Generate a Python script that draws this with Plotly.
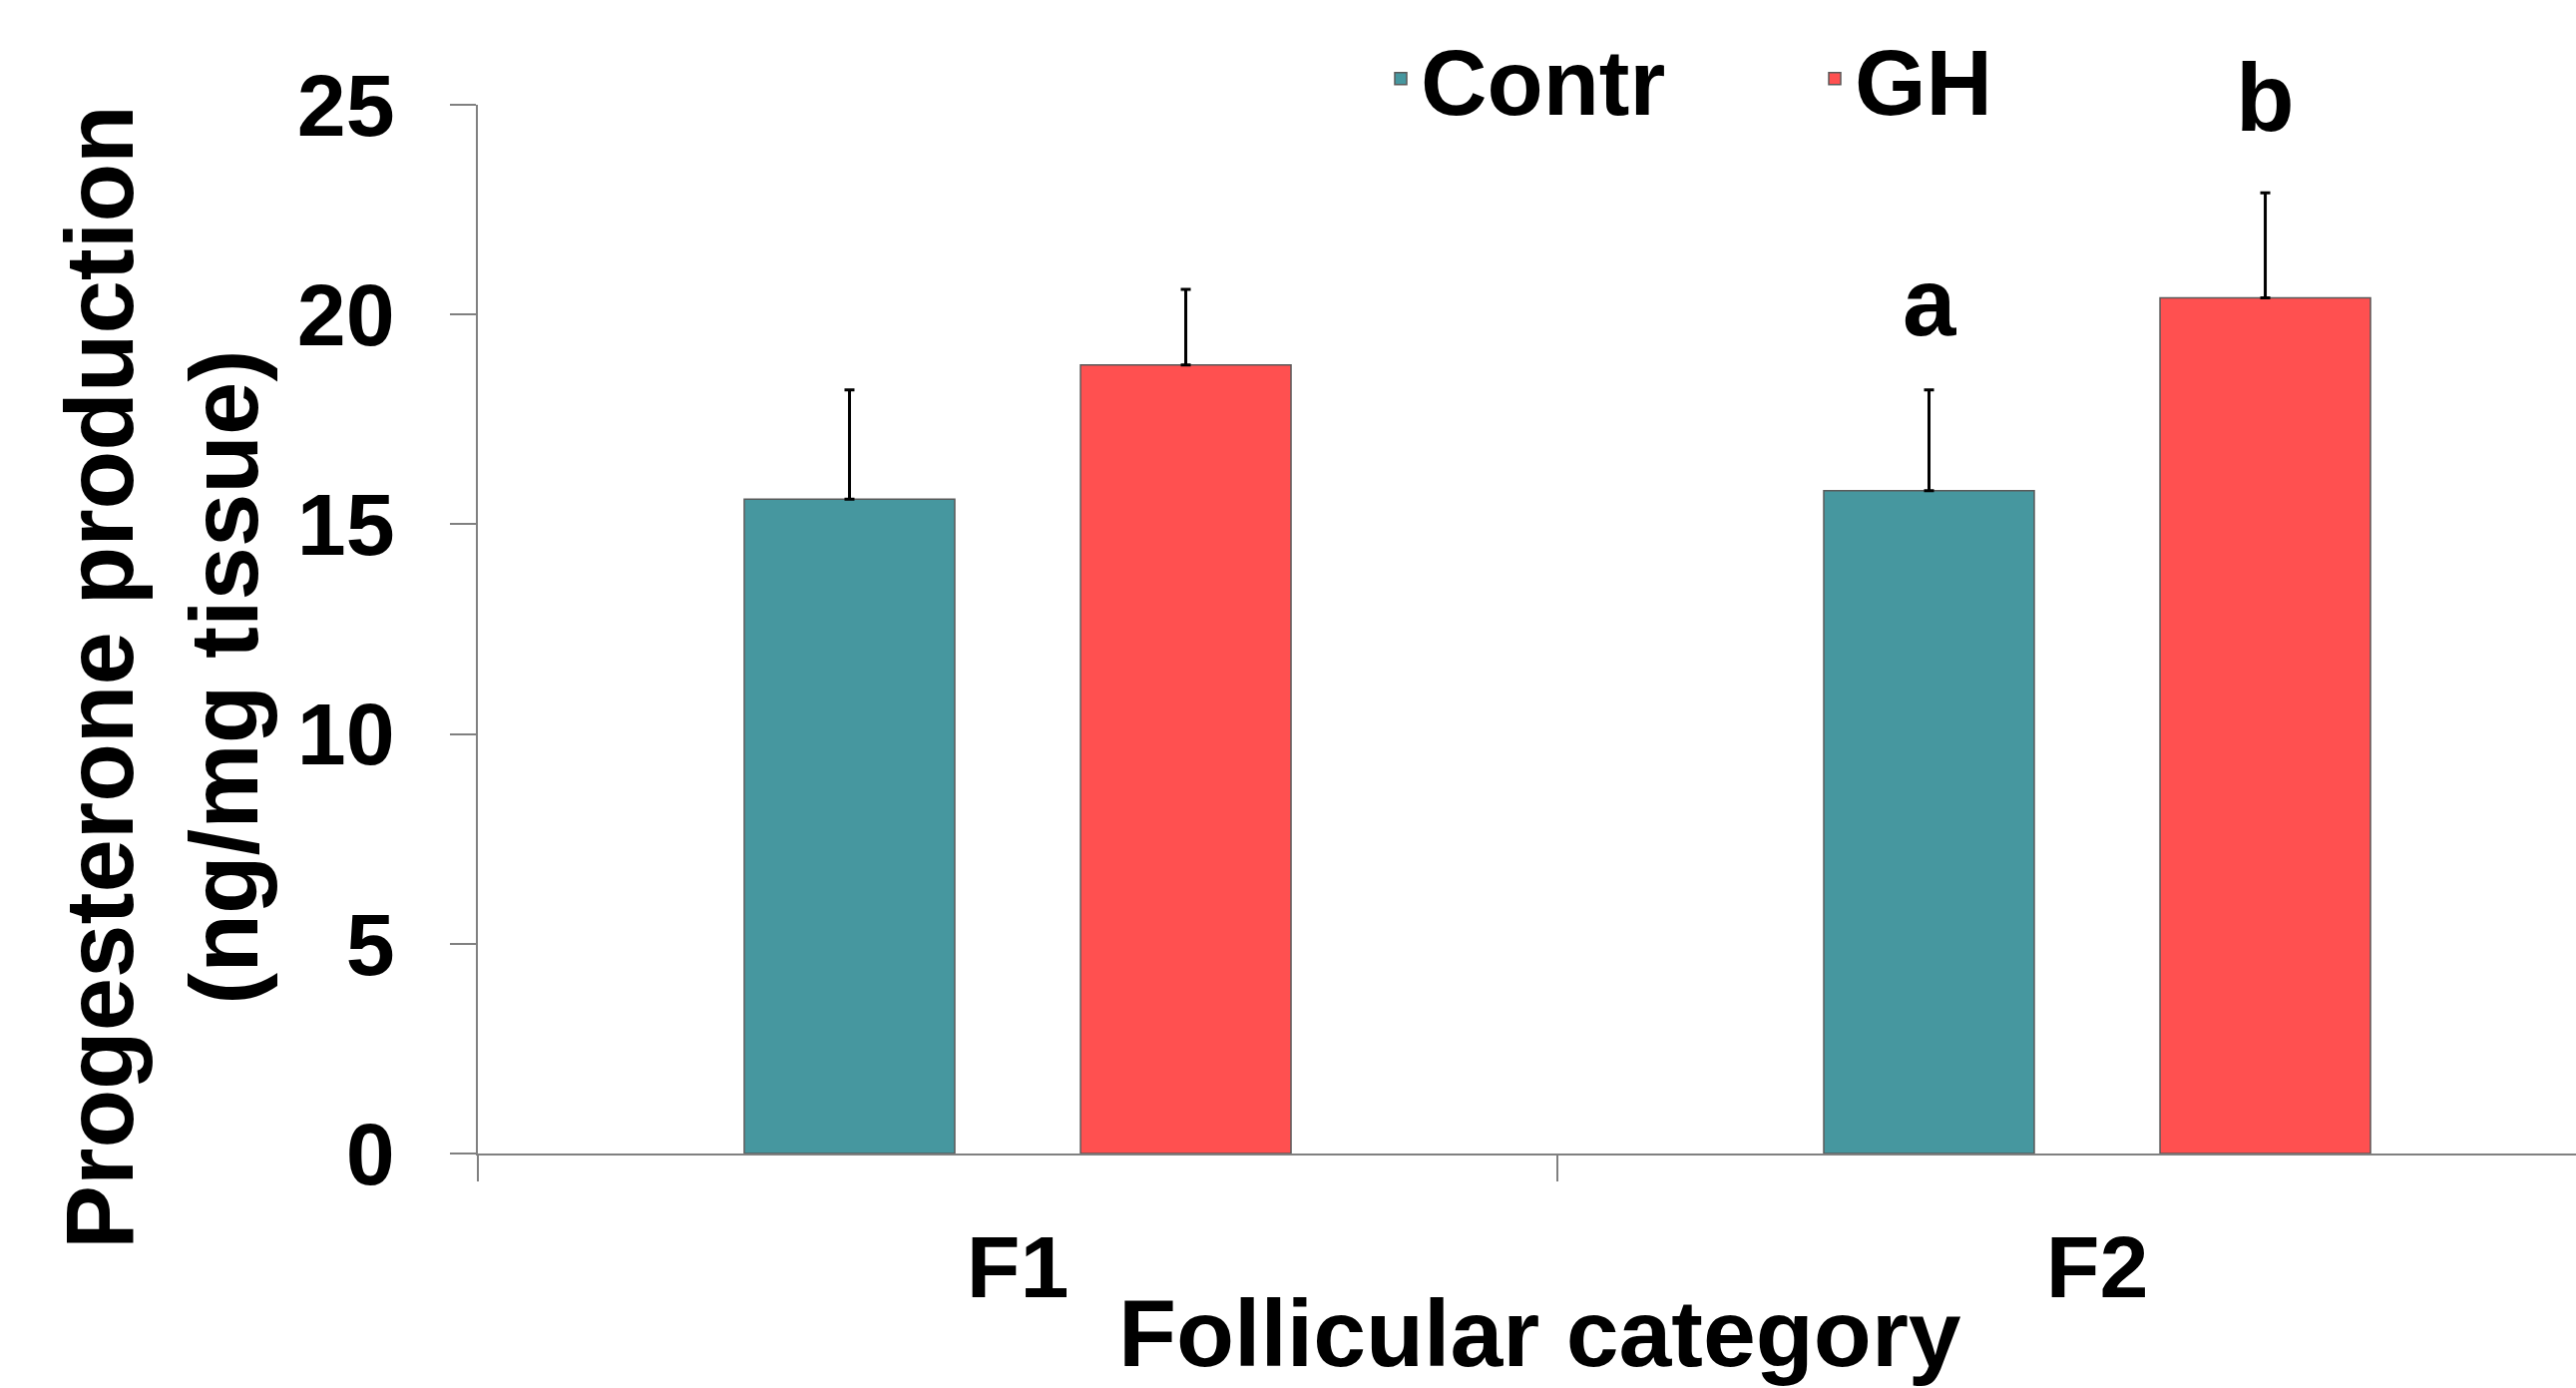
import plotly.graph_objects as go

# ---- data ----
categories = ["F1", "F2"]
series_names = ["Contr", "GH"]
contr_values = [15.6, 15.8]
contr_errors = [2.6, 2.4]
gh_values = [18.8, 20.4]
gh_errors = [1.8, 2.5]
contr_letters = ["", "a"]
gh_letters = ["", "b"]
y_tick_values = [0, 5, 10, 15, 20, 25]

# ---- layout / style ----
W, H = 2582, 1391
L, R, T, B = 479, 0, 105, 235
BARGAP = 0.377
BARGROUPGAP = 0.374
FONT = "Liberation Sans, Arial, sans-serif"
TEAL = "#46979F"
RED = "#FF5050"
EDGE = "#5a5a5a"
AXIS = "#808080"
plot_w = W - L - R
plot_h = H - T - B

fig = go.Figure()
for name, vals, errs, color in [
    (series_names[0], contr_values, contr_errors, TEAL),
    (series_names[1], gh_values, gh_errors, RED),
]:
    fig.add_trace(go.Bar(
        name=name, x=categories, y=vals,
        marker=dict(color=color, line=dict(color=EDGE, width=1.5)),
        error_y=dict(type="data", array=errs, arrayminus=[0] * len(errs),
                     symmetric=False, color="black", thickness=3, width=5),
    ))

# significance letters above error bars
slot_half = (1 - BARGAP) / 4
for letters, vals, errs, sign, shift in [
    (contr_letters, contr_values, contr_errors, -1, 33),
    (gh_letters, gh_values, gh_errors, 1, 40),
]:
    for i, letter in enumerate(letters):
        if letter:
            fig.add_annotation(
                x=i + sign * slot_half, y=vals[i] + errs[i], xref="x", yref="y",
                text=f"<b>{letter}</b>", showarrow=False, yanchor="bottom",
                yshift=shift, font=dict(family=FONT, size=96, color="black"),
            )

# y-axis title (two lines, rotated)
fig.add_annotation(
    x=(162 - L) / plot_w, y=(T + plot_h - 679) / plot_h, xref="paper", yref="paper",
    text="<b>Progesterone production<br>(ng/mg tissue)</b>", textangle=-90,
    showarrow=False, xanchor="center", yanchor="middle",
    font=dict(family=FONT, size=96, color="black"),
)
# x-axis title
fig.add_annotation(
    x=(1543 - L) / plot_w, y=(T + plot_h - 1336) / plot_h, xref="paper", yref="paper",
    text="<b>Follicular category</b>", showarrow=False,
    xanchor="center", yanchor="middle",
    font=dict(family=FONT, size=95, color="black"),
)

fig.update_layout(
    width=W, height=H,
    margin=dict(l=L, r=R, t=T, b=B, pad=0),
    paper_bgcolor="white", plot_bgcolor="white",
    barmode="group", bargap=BARGAP, bargroupgap=BARGROUPGAP,
    font=dict(family=FONT, color="black"),
    showlegend=True,
    legend=dict(
        orientation="h", x=(1384 - L) / plot_w, xanchor="left",
        y=(T + plot_h - 79) / plot_h, yanchor="middle",
        font=dict(family=FONT, size=92, color="black", weight="bold"),
        entrywidth=390, entrywidthmode="pixels",
        bgcolor="rgba(0,0,0,0)", borderwidth=0,
    ),
    xaxis=dict(
        type="category", range=[-0.5, 1.4436],
        showline=True, linecolor=AXIS, linewidth=1.5,
        ticks="outside", tickson="boundaries", ticklen=26, tickwidth=1.5, tickcolor=AXIS,
        tickfont=dict(family=FONT, size=88, color="black", weight="bold"),
        ticklabelstandoff=37,
        showgrid=False, zeroline=False,
    ),
    yaxis=dict(
        range=[0, 25], tickvals=y_tick_values,
        showline=True, linecolor=AXIS, linewidth=1.5,
        ticks="outside", ticklen=26, tickwidth=1.5, tickcolor=AXIS,
        tickfont=dict(family=FONT, size=88, color="black", weight="bold"),
        ticklabelstandoff=38,
        showgrid=False, zeroline=False,
    ),
)

fig.write_html("out.html")
